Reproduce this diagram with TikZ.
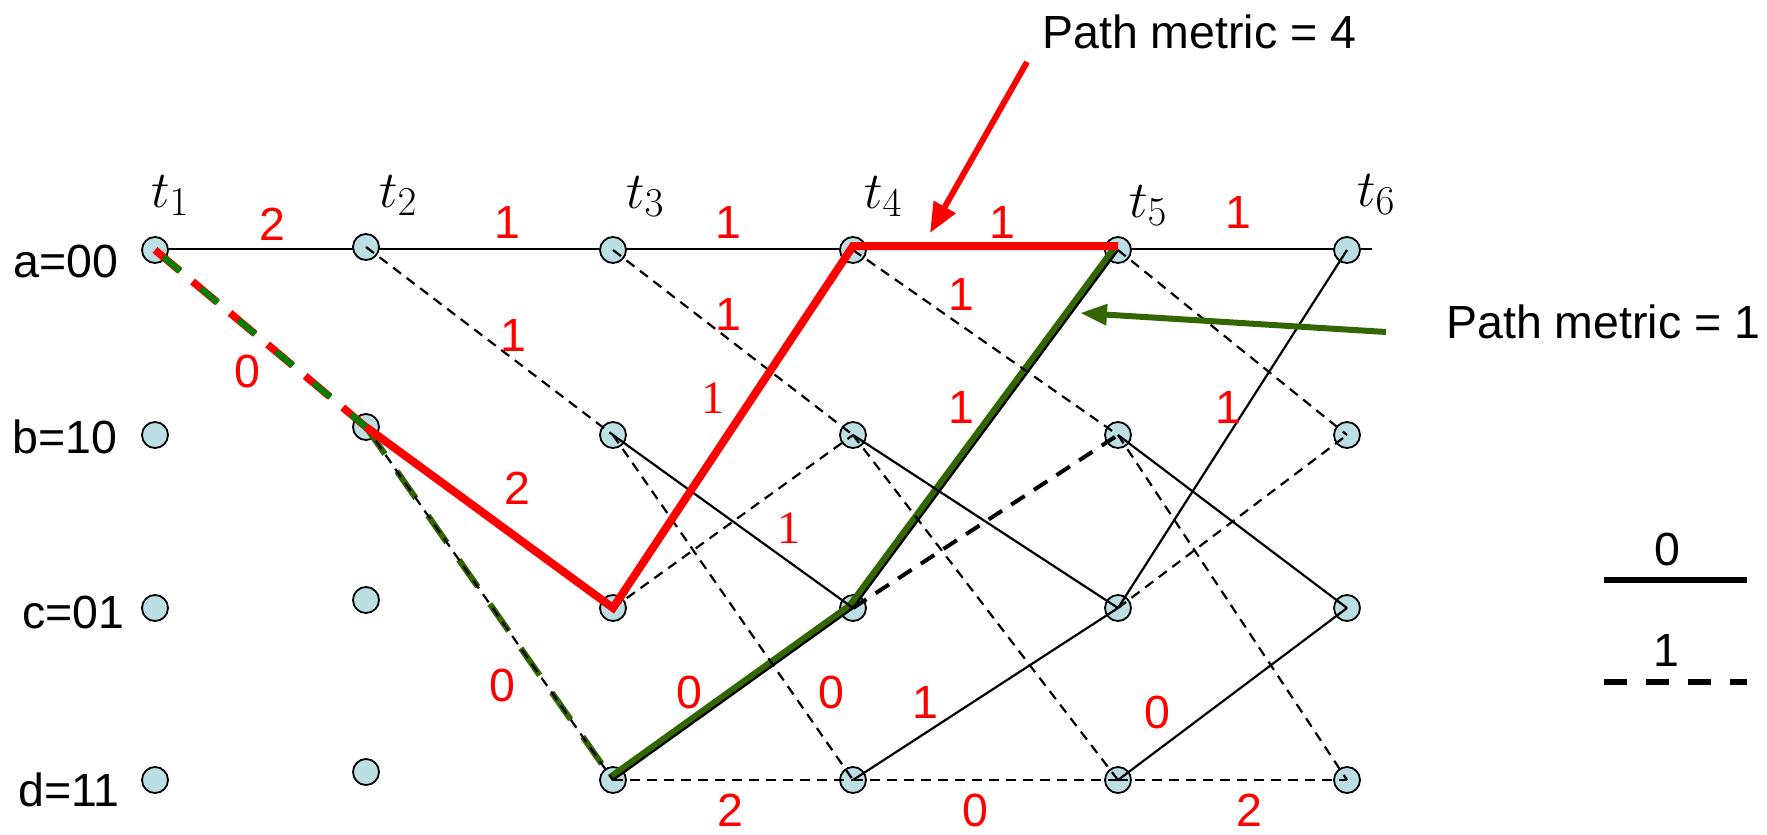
\RequirePackage{fix-cm}
\documentclass[tikz,border=0pt]{standalone}
\usepackage{fontspec}
\newfontfamily\arial{Liberation Sans}
\newfontfamily\tnr{Liberation Serif}
\usetikzlibrary{arrows.meta}
\DeclareMathSizes{52}{52}{41}{32}
\definecolor{nodeblue}{RGB}{187,223,228}
\definecolor{mygreen}{RGB}{51,102,0}
\definecolor{brightgreen}{RGB}{0,128,0}
\begin{document}
\begin{tikzpicture}[x=1pt,y=-1pt,
  st/.style={circle,draw=black,fill=nodeblue,minimum size=26pt,inner sep=0pt,line width=1.8pt},
  zero/.style={line width=2.2pt},
  one/.style={line width=2.2pt,dash pattern=on 10pt off 7pt},
  onethick/.style={line width=4pt,dash pattern=on 16pt off 11pt},
  lbl/.style={font=\arial\fontsize{46.5}{46.5}\selectfont,text=red,inner sep=0pt},
  slbl/.style={font=\tnr\fontsize{46.5}{46.5}\selectfont,text=red,inner sep=0pt},
  txt/.style={font=\arial\fontsize{46.5}{46.5}\selectfont,inner sep=0pt},
  tl/.style={font=\fontsize{52}{52}\selectfont,inner sep=0pt,anchor=base west},
  redpath/.style={line width=8pt,red,line join=miter},
  greenpath/.style={line width=7.5pt,mygreen,line join=miter},
  ptr/.style={line width=6pt,-{Triangle[length=30pt,width=24pt]}},
]
\useasboundingbox (0,0) rectangle (1767,835);

\coordinate (astart) at (155,249);
\coordinate (aend) at (1372,249);

% row a solid line (behind nodes)
\draw[zero] (astart) -- (aend);

% nodes
\node[st] (a1) at (155,250) {};
\node[st] (b1) at (155,435) {};
\node[st] (c1) at (155,608) {};
\node[st] (d1) at (155,780) {};
\node[st] (a2) at (366,247) {};
\node[st] (b2) at (366,427) {};
\node[st] (c2) at (366,600) {};
\node[st] (d2) at (366,772) {};
\node[st] (a3) at (613,250) {};
\node[st] (b3) at (613,435) {};
\node[st] (c3) at (613,608) {};
\node[st] (d3) at (613,780) {};
\node[st] (a4) at (853,250) {};
\node[st] (b4) at (853,435) {};
\node[st] (c4) at (853,608) {};
\node[st] (d4) at (853,780) {};
\node[st] (a5) at (1118,250) {};
\node[st] (b5) at (1118,435) {};
\node[st] (c5) at (1118,608) {};
\node[st] (d5) at (1118,780) {};
\node[st] (a6) at (1347,250) {};
\node[st] (b6) at (1347,435) {};
\node[st] (c6) at (1347,608) {};
\node[st] (d6) at (1347,780) {};

% green survivor (under black)
\draw[greenpath,transform canvas={xshift=-3pt,yshift=2pt}] (d3.center) -- (c4.center) -- (a5.center);
\draw[line width=6pt,mygreen,dash pattern=on 33pt off 21pt] (b2.center) -- (d3.center);

% thin branches
\draw[one] (a2.center) -- (b3.center);
\draw[one] (b2.center) -- (d3.center);
\draw[one] (a3.center) -- (b4.center);
\draw[zero] (b3.center) -- (c4.center);
\draw[one] (b3.center) -- (d4.center);
\draw[one] (c3.center) -- (b4.center);
\draw[zero] (d3.center) -- (c4.center);
\draw[one] (d3.center) -- (d4.center);
\draw[one] (a4.center) -- (b5.center);
\draw[zero] (b4.center) -- (c5.center);
\draw[one] (b4.center) -- (d5.center);
\draw[zero] (c4.center) -- (a5.center);
\draw[onethick] (c4.center) -- (b5.center);
\draw[zero] (d4.center) -- (c5.center);
\draw[one] (d4.center) -- (d5.center);
\draw[one] (a5.center) -- (b6.center);
\draw[zero] (b5.center) -- (c6.center);
\draw[one] (b5.center) -- (d6.center);
\draw[zero] (c5.center) -- (a6.center);
\draw[one] (c5.center) -- (b6.center);
\draw[zero] (d5.center) -- (c6.center);
\draw[one] (d5.center) -- (d6.center);

% red survivor
\draw[redpath] (b2.center) -- (c3.center) -- ([yshift=4pt]a4.center) -- ([yshift=4pt]a5.center);

% shared first branch
\draw[line width=7.5pt,red,dash pattern=on 32pt off 17pt] (a1.center) -- (b2.center);
\draw[line width=6pt,brightgreen,dash pattern=on 22pt off 27pt,dash phase=38pt] (a1.center) -- (b2.center);

% state labels
\node[txt,anchor=base west] (sa) at (13,277) {a=00};
\node[txt,anchor=base west] (sb) at (12,453) {b=10};
\node[txt,anchor=base west] (sc) at (22,628) {c=01};
\node[txt,anchor=base west] (sd) at (18,806) {d=11};

% time labels
\node[tl] (t1) at (151,207) {$t_1$};
\node[tl] (t2) at (379,207) {$t_2$};
\node[tl] (t3) at (626,208) {$t_3$};
\node[tl] (t4) at (864,208) {$t_4$};
\node[tl] (t5) at (1129,217) {$t_5$};
\node[tl] (t6) at (1357,206) {$t_6$};

% branch metrics
\node[lbl] (m1) at (272,224) {2};
\node[lbl] (m2) at (507,223) {1};
\node[lbl] (m3) at (728,223) {1};
\node[lbl] (m4) at (1002,223) {1};
\node[lbl] (m5) at (1238,213) {1};
\node[lbl] (m6) at (247,371) {0};
\node[lbl] (m7) at (513,335) {1};
\node[lbl] (m8) at (728,315) {1};
\node[slbl] (m9) at (713,398) {1};
\node[lbl] (m10) at (961,295) {1};
\node[lbl] (m11) at (961,407) {1};
\node[lbl] (m12) at (1228,407) {1};
\node[lbl] (m13) at (517,488) {2};
\node[slbl] (m14) at (789,528) {1};
\node[lbl] (m15) at (502,685) {0};
\node[lbl] (m16) at (689,692) {0};
\node[lbl] (m17) at (831,692) {0};
\node[lbl] (m18) at (925,702) {1};
\node[lbl] (m19) at (1157,712) {0};
\node[lbl] (m20) at (730,810) {2};
\node[lbl] (m21) at (975,810) {0};
\node[lbl] (m22) at (1249,810) {2};

% annotations
\node[txt,anchor=base west] (pm4) at (1042,48) {Path metric = 4};
\node[txt,anchor=base west] (pm1) at (1446,338) {Path metric = 1};
\coordinate (ra) at (1027,62);
\coordinate (rb) at (930,233);
\draw[ptr,red] (ra) -- (rb);
\coordinate (ga) at (1386,332);
\coordinate (gb) at (1080,313);
\draw[ptr,mygreen,-{Triangle[length=27pt,width=20pt]}] (ga) -- (gb);

% legend
\node[txt] (lg0) at (1667,549) {0};
\node[txt] (lg1) at (1666,650) {1};
\coordinate (l0a) at (1604,580);
\coordinate (l0b) at (1747,580);
\coordinate (l1a) at (1604,682);
\coordinate (l1b) at (1747,682);
\draw[line width=6pt] (l0a) -- (l0b);
\draw[line width=6pt,dash pattern=on 23pt off 19pt] (l1a) -- (l1b);
\end{tikzpicture}
\end{document}
